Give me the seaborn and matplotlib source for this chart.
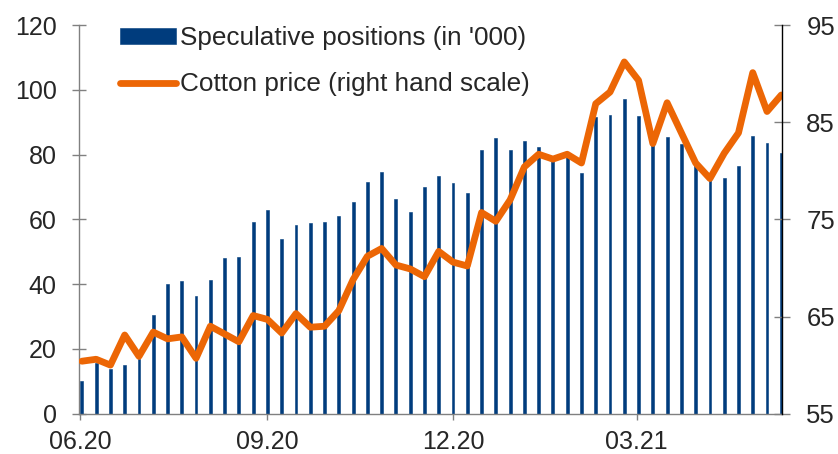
import numpy as np
import pandas as pd
import matplotlib
matplotlib.use("Agg")
import matplotlib.pyplot as plt
import seaborn as sns

# ---- data ----
start_date = "2020-06-02"
n_weeks = 50
speculative = [10, 15.6, 13.8, 15, 17, 30.4, 40, 41, 36.2, 41.3,
               48.2, 48.4, 59.1, 62.8, 53.9, 58.2, 58.8, 59.3, 60.9, 65.5,
               71.4, 74.7, 66.4, 62.4, 70, 73.4, 71.1, 68.2, 81.5, 85.1,
               81.4, 84.2, 82.2, 79, 80, 74.2, 91.7, 92.2, 97.2, 91.8,
               83, 85.3, 83.3, 78, 73, 72.7, 76.4, 85.6, 83.5, 80.4]
cotton = [60.4, 60.6, 60.0, 63.1, 60.9, 63.4, 62.7, 62.9, 60.7, 64.0,
          63.2, 62.4, 65.1, 64.7, 63.3, 65.3, 63.9, 64.0, 65.6, 68.8,
          71.2, 72.0, 70.3, 69.9, 69.1, 71.7, 70.6, 70.2, 75.7, 74.8,
          77.0, 80.4, 81.7, 81.2, 81.7, 80.8, 86.9, 88.1, 91.2, 89.3,
          82.8, 87.0, 83.9, 80.8, 79.2, 81.8, 83.9, 90.1, 86.1, 87.8]
tick_dates = ["2020-06-01", "2020-09-01", "2020-12-01", "2021-03-01"]
tick_labels = ["06.20", "09.20", "12.20", "03.21"]
left_ticks = [0, 20, 40, 60, 80, 100, 120]
right_ticks = [55, 65, 75, 85, 95]
label_bars = "Speculative positions (in '000)"
label_line = "Cotton price (right hand scale)"

NAVY = "#003C7D"
ORANGE = "#EC6605"
GRAY = "#808080"

dates = pd.date_range(start_date, periods=n_weeks, freq="7D")
t0 = dates[0]
xpos = np.array([(d - t0).days / 7.0 for d in dates])
tick_pos = [(pd.Timestamp(d) - t0).days / 7.0 for d in tick_dates]

df = pd.DataFrame({"x": xpos, "spec": speculative, "price": cotton})

sns.set_style("white")
plt.rcParams["font.family"] = ["Liberation Sans", "DejaVu Sans"]

fig = plt.figure(figsize=(8.38, 4.54), dpi=100)
ax = fig.add_axes([0.0943, 0.0888, 0.9332 - 0.0943, 0.9449 - 0.0888])
sns.barplot(data=df, x="x", y="spec", native_scale=True, width=0.2,
            color=NAVY, saturation=1, errorbar=None, ax=ax,
            label=label_bars, edgecolor=NAVY, linewidth=0.4)
ax2 = ax.twinx()
sns.lineplot(data=df, x="x", y="price", ax=ax2, color=ORANGE,
             linewidth=4.9, label=label_line)
ax2.lines[0].set_solid_capstyle("round")
ax2.lines[0].set_solid_joinstyle("round")

ax.set_xlim(-0.2, 49.05)
ax.set_ylim(0, 120)
ax2.set_ylim(55, 95)
ax.set_yticks(left_ticks)
ax2.set_yticks(right_ticks)
ax.set_xticks(tick_pos)
ax.set_xticklabels(tick_labels)
ax.set_xlabel("")
ax.set_ylabel("")
ax2.set_ylabel("")

for a in (ax, ax2):
    a.spines["top"].set_visible(False)
ax.spines["right"].set_visible(False)
ax2.spines["left"].set_visible(False)
ax2.spines["bottom"].set_visible(False)
ax.spines["left"].set_color(GRAY)
ax.spines["bottom"].set_color(GRAY)
ax2.spines["right"].set_color("#000000")
for s in ("left", "bottom"):
    ax.spines[s].set_linewidth(1.0)
ax2.spines["right"].set_linewidth(1.0)

ax.tick_params(axis="y", direction="inout", length=10, width=1, color=GRAY,
               labelsize=18, pad=11, left=True)
ax.tick_params(axis="x", direction="out", length=4.5, width=1, color=GRAY,
               labelsize=18, pad=7, bottom=True)
ax2.tick_params(axis="y", direction="inout", length=11, width=1, color=GRAY,
                labelsize=18.5, pad=12, right=True)

if ax.get_legend() is not None:
    ax.get_legend().remove()
h1 = ax.containers[0]
h2 = ax2.lines[0]
if ax2.get_legend() is not None:
    ax2.get_legend().remove()
leg = ax2.legend([h1, h2], [label_bars, label_line], loc="upper left",
                 bbox_to_anchor=(0.058, 0.997), frameon=False, fontsize=18.8,
                 handlelength=2.15, handletextpad=0.17, labelspacing=0.85,
                 borderaxespad=0, borderpad=0, handleheight=0.62)

fig.savefig("out.png", dpi=100)
